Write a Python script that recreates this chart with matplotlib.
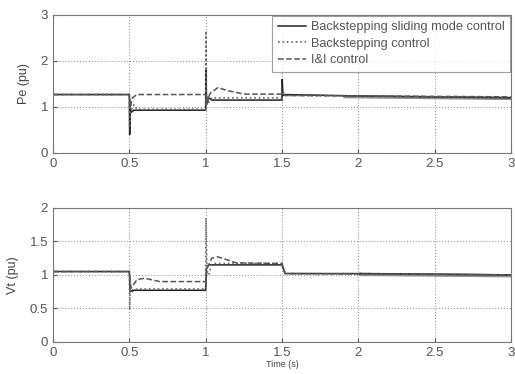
import matplotlib
matplotlib.use("Agg")
import matplotlib.pyplot as plt

plt.rcParams['font.family'] = ['Liberation Sans', 'DejaVu Sans']

# Pe (pu) traces
pe_smc_t = [0, 0.5, 0.502, 0.506, 0.51, 0.53, 1.0, 1.002, 1.006, 1.02, 1.04, 1.5, 1.502, 1.506, 1.52, 2.0, 3.0]
pe_smc_v = [1.27, 1.27, 0.4, 1.0, 0.88, 0.93, 0.93, 1.8, 1.05, 1.2, 1.15, 1.15, 1.6, 1.25, 1.27, 1.24, 1.2]
pe_bs_t = [0, 0.5, 0.502, 0.506, 0.515, 0.53, 0.55, 1.0, 1.002, 1.006, 1.012, 1.02, 1.04, 1.5, 1.505, 1.52, 2.0, 3.0]
pe_bs_v = [1.27, 1.27, 0.55, 1.15, 0.95, 1.05, 0.95, 0.95, 2.65, 1.05, 1.25, 1.1, 1.2, 1.2, 1.35, 1.25, 1.24, 1.2]
pe_ii_t = [0, 0.5, 0.505, 0.52, 0.55, 1.0, 1.005, 1.03, 1.08, 1.15, 1.25, 1.5, 1.505, 1.52, 3.0]
pe_ii_v = [1.27, 1.27, 1.0, 1.2, 1.27, 1.27, 1.1, 1.3, 1.42, 1.35, 1.28, 1.28, 1.3, 1.25, 1.22]
pe_chatter_t = [1.9, 3.0]
pe_chatter_lo = [1.2, 1.16]
pe_chatter_hi = [1.26, 1.23]

# Vt (pu) traces
vt_smc_t = [0, 0.5, 0.505, 0.52, 1.0, 1.005, 1.02, 1.5, 1.52, 1.53, 2.0, 3.0]
vt_smc_v = [1.05, 1.05, 0.75, 0.77, 0.77, 1.1, 1.15, 1.15, 1.02, 1.02, 1.02, 1.0]
vt_bs_t = [0, 0.5, 0.502, 0.506, 0.52, 0.55, 1.0, 1.002, 1.008, 1.02, 1.04, 1.06, 1.5, 1.52, 1.54, 3.0]
vt_bs_v = [1.05, 1.05, 0.48, 0.85, 0.75, 0.79, 0.79, 1.85, 1.05, 1.0, 1.15, 1.17, 1.17, 1.03, 1.02, 1.0]
vt_ii_t = [0, 0.5, 0.51, 0.55, 0.6, 0.7, 1.0, 1.01, 1.04, 1.08, 1.2, 1.5, 1.52, 3.0]
vt_ii_v = [1.05, 1.05, 0.8, 0.93, 0.95, 0.9, 0.9, 1.1, 1.25, 1.27, 1.18, 1.17, 1.02, 1.0]
vt_chatter_t = [2.0, 3.0]
vt_chatter_lo = [0.99, 0.97]
vt_chatter_hi = [1.04, 1.02]

xticks = [0, 0.5, 1, 1.5, 2, 2.5, 3]
xticklabels = ['0', '0.5', '1', '1.5', '2', '2.5', '3']

fig = plt.figure(figsize=(5.15, 3.74), dpi=100)
ax1 = fig.add_axes([0.103, 0.591, 0.889, 0.369])
ax2 = fig.add_axes([0.103, 0.086, 0.889, 0.358])

# top plot
ax1.plot(pe_smc_t, pe_smc_v, '-', color='#222222', lw=1.1, label='Backstepping sliding mode control')
ax1.plot(pe_bs_t, pe_bs_v, ':', color='#666666', lw=1.2, label='Backstepping control')
ax1.plot(pe_ii_t, pe_ii_v, '--', color='#555555', lw=1.1, label='I&I control')
ax1.fill_between(pe_chatter_t, pe_chatter_lo, pe_chatter_hi, color='#333333', alpha=0.55, lw=0)
ax1.set_ylim(0, 3)
ax1.set_yticks([0, 1, 2, 3])
ax1.set_ylabel('Pe (pu)', fontsize=9, color='#444444', labelpad=8)
leg = ax1.legend(loc='upper right', fontsize=9.2, frameon=True, fancybox=False,
                 borderaxespad=0.05, handlelength=2.2, labelspacing=0.35,
                 borderpad=0.45, handletextpad=0.4)
leg.get_frame().set_edgecolor('#888888')
leg.get_frame().set_linewidth(0.8)
for t in leg.get_texts():
    t.set_color('#555555')

# bottom plot
ax2.plot(vt_smc_t, vt_smc_v, '-', color='#222222', lw=1.1)
ax2.plot(vt_bs_t, vt_bs_v, ':', color='#666666', lw=1.2)
ax2.plot(vt_ii_t, vt_ii_v, '--', color='#555555', lw=1.1)
ax2.fill_between(vt_chatter_t, vt_chatter_lo, vt_chatter_hi, color='#333333', alpha=0.55, lw=0)
ax2.set_ylim(0, 2)
ax2.set_yticks([0, 0.5, 1, 1.5, 2])
ax2.set_yticklabels(['0', '0.5', '1', '1.5', '2'])
ax2.set_ylabel('Vt (pu)', fontsize=9, color='#444444', labelpad=8)
ax2.set_xlabel('Time (s)', fontsize=6.5, color='#444444', labelpad=1)

for ax in (ax1, ax2):
    ax.set_xlim(0, 3)
    ax.set_xticks(xticks)
    ax.set_xticklabels(xticklabels)
    ax.tick_params(direction='in', labelsize=9.5, colors='#555555', length=3)
    ax.grid(True, linestyle=':', color='#999999', linewidth=0.8)
    for s in ax.spines.values():
        s.set_color('#777777')
        s.set_linewidth(0.8)

fig.savefig('out.png', dpi=100)
